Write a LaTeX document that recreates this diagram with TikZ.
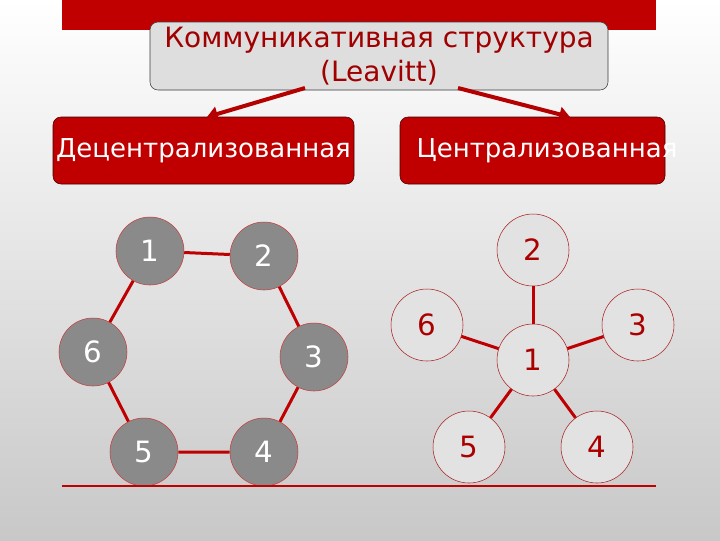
\documentclass[tikz,border=0pt]{standalone}
\usepackage{fontspec}
\setmainfont{DejaVu Sans}
\usetikzlibrary{arrows.meta}

\begin{document}
\begin{tikzpicture}[x=0.75pt,y=0.75pt,yscale=-1,xscale=1,
  headbox/.style={draw={rgb,255:red,60;green,60;blue,60},fill={rgb,255:red,222;green,222;blue,222},rounded corners=6pt,
    minimum width=343.5pt,minimum height=51pt,align=center,inner sep=0pt,
    text={rgb,255:red,160;green,0;blue,0},font=\fontsize{21}{25}\selectfont},
  kindbox/.style={draw={rgb,255:red,70;green,0;blue,0},fill={rgb,255:red,192;green,0;blue,0},rounded corners=6pt,
    minimum height=50.25pt,inner sep=0pt,text=white,font=\fontsize{19.5}{23}\selectfont},
  kindtext/.style={inner sep=0pt,text=white,font=\fontsize{19.5}{23}\selectfont},
  ring/.style={circle,draw={rgb,255:red,200;green,60;blue,60},fill={rgb,255:red,138;green,138;blue,138},
    minimum size=51pt,inner sep=0pt,text=white,font=\fontsize{22}{22}\selectfont},
  hub/.style={circle,draw={rgb,255:red,170;green,30;blue,30},fill={rgb,255:red,226;green,226;blue,226},
    minimum size=54pt,inner sep=0pt,text={rgb,255:red,170;green,0;blue,0},font=\fontsize{22}{22}\selectfont},
  link/.style={draw={rgb,255:red,190;green,0;blue,0},line width=2.25pt},
  pointer/.style={draw={rgb,255:red,180;green,0;blue,0},line width=3pt,-{Triangle[width=11pt,length=8pt]}}]
%uncomment if require: \path (0,540); %set diagram left start at 0, and has height of 540

%Background
\shade[top color=white,bottom color={rgb,255:red,200;green,200;blue,200}] (0,0) rectangle (720,540);
\useasboundingbox (0,0) rectangle (720,540);
%Top band
\fill [color={rgb,255:red,192;green,0;blue,0}] (62,0) rectangle (656,30);

% Title and the two kinds
\node [headbox] (title) at (379,56) {Коммуникативная структура\\(Leavitt)};
\node [kindbox,minimum width=225.75pt] (decent) at (203.5,150.5) {Децентрализованная};
\node [kindbox,minimum width=198.75pt] (cent) at (532.5,150.5) {};
\node [kindtext] (centlabel) at (547,150.5) {Централизованная};

\coordinate (fromL) at (305,88);
\coordinate (fromR) at (458,88);
\coordinate (toL) at (207,117);
\coordinate (toR) at (570,117);
\draw [pointer] (fromL) -- (toL);
\draw [pointer] (fromR) -- (toR);

% Decentralised: ring
\node [ring] (r1) at (150,251) {1};
\node [ring] (r2) at (264,256) {2};
\node [ring] (r3) at (314,357) {3};
\node [ring] (r4) at (264,452) {4};
\node [ring] (r5) at (144,452) {5};
\node [ring] (r6) at (93,352) {6};
\draw [link] (r1) -- (r2) -- (r3) -- (r4) -- (r5) -- (r6) -- (r1);

% Centralised: star
\node [hub] (s1) at (533,360) {1};
\node [hub] (s2) at (533,250) {2};
\node [hub] (s3) at (638,325) {3};
\node [hub] (s4) at (597,447) {4};
\node [hub] (s5) at (469,447) {5};
\node [hub] (s6) at (427,325) {6};
\foreach \k in {2,...,6}
  \draw [link] (s1) -- (s\k);

%Base line
\draw [color={rgb,255:red,190;green,0;blue,0},line width=1.5pt] (62,486) -- (656,486);

\end{tikzpicture}
\end{document}
